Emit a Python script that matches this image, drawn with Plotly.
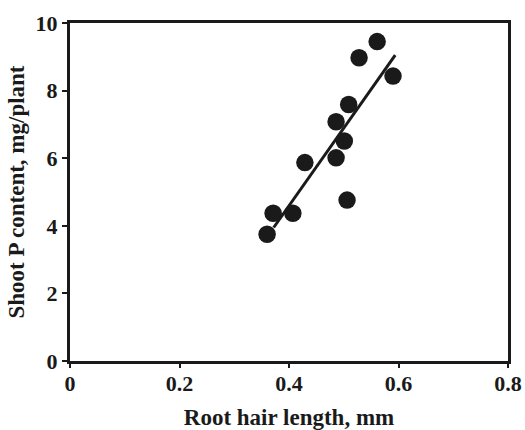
import plotly.graph_objects as go

root_hair_mm = [0.360, 0.371, 0.407, 0.429, 0.486, 0.486, 0.501, 0.509, 0.506, 0.528, 0.561, 0.590]
shoot_p = [3.75, 4.37, 4.37, 5.87, 7.08, 6.01, 6.51, 7.59, 4.76, 8.97, 9.45, 8.43]
fit_x = [0.372, 0.594]
fit_y = [3.95, 9.05]
x_ticks = [0, 0.2, 0.4, 0.6, 0.8]
x_tick_labels = ["0", "0.2", "0.4", "0.6", "0.8"]
y_ticks = [0, 2, 4, 6, 8, 10]

font = "Liberation Serif"

fig = go.Figure()
fig.add_trace(go.Scatter(x=fit_x, y=fit_y, mode="lines",
                         line=dict(color="#1a1a1a", width=3), showlegend=False))
fig.add_trace(go.Scatter(x=root_hair_mm, y=shoot_p, mode="markers",
                         marker=dict(color="#1a1a1a", size=17.5), showlegend=False))

fig.update_layout(
    width=525, height=430,
    margin=dict(l=70, r=17, t=23, b=69),
    plot_bgcolor="white", paper_bgcolor="white",
    font=dict(family=font, size=22, color="#1a1a1a"),
)
fig.update_xaxes(range=[0, 0.8], tickvals=x_ticks, ticktext=x_tick_labels,
                 automargin=False,
                 showgrid=False, zeroline=False, showline=True, linewidth=3,
                 linecolor="#1a1a1a", mirror=True, ticks="outside", ticklen=4,
                 tickwidth=2, tickcolor="#1a1a1a", ticklabelstandoff=-3,
                 tickfont=dict(family=font, size=22, weight="bold"),
                 title=dict(text="<b>Root hair length, mm</b>", standoff=14,
                            font=dict(family=font, size=23)))
fig.update_yaxes(range=[0, 10], tickvals=y_ticks,
                 automargin=False,
                 showgrid=False, zeroline=False, showline=True, linewidth=3,
                 linecolor="#1a1a1a", mirror=True, ticks="outside", ticklen=5,
                 tickwidth=2, tickcolor="#1a1a1a",
                 tickfont=dict(family=font, size=22, weight="bold"),
                 title=dict(text="<b>Shoot P content, mg/plant</b>", standoff=5,
                            font=dict(family=font, size=23)))

fig.write_html("out.html", config={"displayModeBar": False},
               post_script="document.body.style.margin='0';document.body.style.overflow='hidden';")
